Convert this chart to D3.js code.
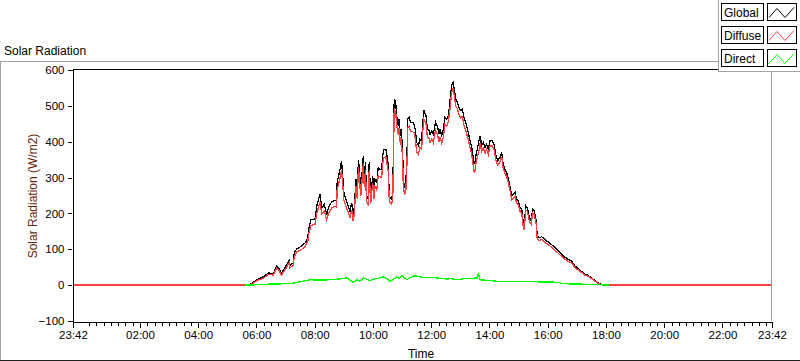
<!DOCTYPE html>
<html><head><meta charset="utf-8">
<script src="https://cdn.jsdelivr.net/npm/d3@7/dist/d3.min.js"></script>
<style>
html,body{margin:0;padding:0;background:#fff;}
svg{display:block;font-family:"Liberation Sans",Arial,sans-serif;}
</style></head>
<body><svg id="c" width="800" height="361"></svg>
<script>
// ---- data (hours of day; 23:42 of previous day = -0.3) ----
const timeHours = [-0.3,5.65,5.70,5.85,6.06,6.25,6.41,6.58,6.69,6.78,6.86,7.04,7.12,7.15,7.26,7.30,7.38,7.55,7.67,7.76,7.80,7.87,8.01,8.07,8.18,8.24,8.33,8.41,8.47,8.58,8.70,
8.75,8.77,8.87,8.92,8.96,9.00,9.07,9.15,9.21,9.27,9.32,9.35,9.38,9.42,9.46,9.50,9.53,9.58,9.61,9.67,9.70,9.74,9.78,9.84,9.87,9.92,9.99,10.03,10.07,10.13,10.18,10.24,10.30,10.33,10.38,10.44,10.47,10.53,10.55,10.58,10.64,10.68,10.70,10.73,10.78,10.81,10.87,10.90,10.94,10.97,11.02,11.04,11.09,11.13,11.17,11.19,11.24,11.29,11.36,11.41,11.45,11.50,11.56,11.61,11.67,11.71,11.75,11.82,11.87,11.93,
11.96,12.02,12.07,12.15,12.22,12.27,12.30,12.36,12.42,12.47,12.53,12.59,12.64,12.70,12.75,12.79,12.84,12.90,12.95,13.01,13.07,13.12,13.18,13.21,13.27,13.33,13.39,13.44,13.48,13.50,13.54,13.58,13.64,13.68,13.73,13.79,13.85,13.90,13.96,14.02,14.10,14.17,14.21,14.28,14.36,14.42,14.47,14.53,14.59,14.65,14.70,14.76,14.82,14.88,14.93,14.99,15.05,15.11,15.16,15.19,15.22,15.25,15.30,15.37,15.43,15.48,15.53,15.60,15.64,15.71,15.79,15.91,16.02,16.19,16.36,16.54,16.71,16.82,16.94,17.11,17.28,17.39,17.51,17.62,17.73,17.85,18.02,18.14,23.7];

const globalValues = [0,0,0,6,17,24,34,32,53,45,34,57,69,55,62,90,101,109,118,132,160,183,183,221,253,216,225,197,216,232,237,
235,286,323,347,305,258,239,221,207,230,193,211,249,295,258,350,323,267,295,361,295,342,249,239,342,244,305,258,295,286,328,323,323,361,379,379,365,333,267,244,239,258,370,519,510,473,445,463,417,435,370,295,272,286,370,463,468,454,454,449,435,398,389,407,403,454,487,473,435,431,
421,431,421,454,440,421,435,417,435,468,463,473,510,557,566,547,519,510,496,487,491,468,454,445,426,403,384,356,337,342,365,379,403,417,389,398,384,393,379,403,403,389,365,347,356,370,337,323,314,295,277,249,253,258,239,235,216,211,174,165,193,221,216,188,179,211,207,183,137,132,135,127,120,109,95,81,71,67,53,41,31,27,20,13,6,2,1,0,0];

const diffuseValues = [0,0,0,4,14,20,30,28,47,40,28,50,62,48,56,80,92,100,108,122,146,166,170,200,232,198,206,182,200,215,220,
218,265,300,322,284,238,220,203,188,210,178,194,230,275,240,328,302,248,276,340,275,320,232,222,320,226,286,240,276,266,306,302,300,338,356,358,345,314,250,230,226,242,348,492,485,448,420,438,392,410,348,275,252,266,345,438,443,430,428,425,410,372,365,384,380,430,462,450,412,408,
398,408,398,432,418,400,414,396,414,448,444,455,490,538,550,530,500,492,476,466,470,446,432,424,406,384,364,335,312,318,342,356,375,396,372,382,368,378,364,388,388,375,352,335,344,358,326,312,303,284,266,238,242,247,228,225,206,200,162,155,183,210,206,178,170,201,197,174,128,124,127,119,113,102,89,75,66,62,49,38,28,25,18,11,5,1,0,0,0];

const directTime = [5.62,6.00,6.46,7.15,7.49,7.84,8.20,8.52,8.80,9.10,9.20,9.32,9.45,9.55,9.67,9.80,9.90,10.10,10.24,10.35,10.50,10.58,10.70,10.81,10.90,10.99,11.08,11.16,11.30,11.40,11.50,11.70,11.96,12.20,12.53,12.70,12.88,13.05,13.22,13.40,13.58,13.62,13.65,13.67,14.00,14.25,14.50,14.82,15.10,15.39,15.70,16.00,16.31,16.50,16.80,17.11,17.40,17.80,18.10];
const directValues = [0,1,3,4,9,15,14,15,17,20,14,8,15,11,20,16,13,18,20,23,17,11,16,23,19,27,21,15,22,26,25,22,22,20,17,18,15,17,19,19,20,34,20,15,13,11,11,10,10,11,9,9,8,5,3,3,2,1,0];

const xTickHours  = [-0.3,2,4,6,8,10,12,14,16,18,20,22,23.7];
const xTickLabels = ["23:42","02:00","04:00","06:00","08:00","10:00","12:00","14:00","16:00","18:00","20:00","22:00","23:42"];
const yTickValues = [-100,0,100,200,300,400,500,600];
const seriesNames = ["Global","Diffuse","Direct"];
const seriesColors = ["#000000","#ff4040","#00ff00"];

// ---- drawing ----
const svg = d3.select("#c");
const L = 73, R = 772, T = 70, B = 321;
const x = d3.scaleLinear().domain([-0.3, 23.7]).range([L, R]);
const y = d3.scaleLinear().domain([-100, 600]).range([B, T]);

// outer frame
svg.append("line").attr("x1",0).attr("x2",718).attr("y1",61.5).attr("y2",61.5).attr("stroke","#a0a0a0");
svg.append("line").attr("x1",0.5).attr("x2",0.5).attr("y1",61.5).attr("y2",361).attr("stroke","#a0a0a0");
svg.append("line").attr("x1",0).attr("x2",800).attr("y1",360.5).attr("y2",360.5).attr("stroke","#202020");

svg.append("text").attr("x",4).attr("y",55).attr("font-size",12).attr("fill","#000").text("Solar Radiation");

// clip
svg.append("defs").append("clipPath").attr("id","pc").append("rect")
  .attr("x",L).attr("y",T).attr("width",R-L).attr("height",B-T);

const g = svg.append("g").attr("clip-path","url(#pc)");
const line = d3.line().x(d=>x(d[0])).y(d=>y(d[1]));
const gData = timeHours.map((t,i)=>[t,globalValues[i]]);
const dData = timeHours.map((t,i)=>[t,diffuseValues[i]]);
const rData = directTime.map((t,i)=>[t,directValues[i]]);
[[gData,seriesColors[0]],[dData,seriesColors[1]],[rData,seriesColors[2]]].forEach(([d,c])=>{
  g.append("path").datum(d).attr("d",line).attr("fill","none").attr("stroke",c)
   .attr("stroke-width",1.3).attr("shape-rendering","crispEdges");
});

// plot frame
svg.append("line").attr("x1",L).attr("x2",R).attr("y1",T-0.5).attr("y2",T-0.5).attr("stroke","#000");
svg.append("line").attr("x1",R-0.5).attr("x2",R-0.5).attr("y1",T).attr("y2",B).attr("stroke","#a0a0a0");

// y axis
const yAxis = d3.axisLeft(y).tickValues(yTickValues).tickSize(5).tickPadding(3);
const ya = svg.append("g").attr("transform",`translate(${L-0.5},0)`).call(yAxis);
ya.select(".domain").attr("stroke","#000");
ya.selectAll(".tick line").attr("stroke","#000").attr("x2",-5).attr("x1",-1);
ya.selectAll("text").attr("font-size",11.5).attr("font-family","Liberation Sans, Arial, sans-serif").attr("fill","#000");

// x axis (major + minor)
const minor = d3.range(0, 23.75, 0.25).filter(h => Math.abs(h/2 - Math.round(h/2)) > 1e-6);
const xMinor = d3.axisBottom(x).tickValues(minor).tickSize(3).tickFormat("");
const xm = svg.append("g").attr("transform",`translate(0,${B+0.5})`).call(xMinor);
xm.select(".domain").remove();
xm.selectAll(".tick line").attr("stroke","#000").attr("y1",1.5).attr("y2",4);
const xAxis = d3.axisBottom(x).tickValues(xTickHours).tickSize(6).tickPadding(3)
  .tickFormat((d,i)=>xTickLabels[i]);
const xa = svg.append("g").attr("transform",`translate(0,${B+0.5})`).call(xAxis);
xa.select(".domain").attr("stroke","#000");
xa.selectAll(".tick line").attr("stroke","#000").attr("y1",1.5).attr("y2",6.5);
xa.selectAll("text").attr("font-size",11.5).attr("font-family","Liberation Sans, Arial, sans-serif").attr("fill","#000");
svg.selectAll(".domain, .tick line").attr("shape-rendering","crispEdges");

// axis titles
svg.append("text").attr("transform","translate(37,196) rotate(-90)").attr("text-anchor","middle")
  .attr("font-size",12).attr("fill","#6b240a").text("Solar Radiation (W/m2)");
svg.append("text").attr("x",421).attr("y",358).attr("text-anchor","middle")
  .attr("font-size",12).attr("fill","#000").text("Time");

// legend
const lg = svg.append("g");
lg.append("rect").attr("x",718.5).attr("y",-1).attr("width",83).attr("height",72.5)
  .attr("fill","#fff").attr("stroke","#a0a0a0");
seriesNames.forEach((n,i)=>{
  const top = 3.5 + i*23;
  lg.append("rect").attr("x",721.5).attr("y",top).attr("width",42).attr("height",17)
    .attr("fill","#fff").attr("stroke","#000");
  lg.append("text").attr("x",724).attr("y",top+13).attr("font-size",12).attr("fill","#000").text(n);
  lg.append("rect").attr("x",767.5).attr("y",top).attr("width",29).attr("height",17)
    .attr("fill","#fff").attr("stroke","#000");
  lg.append("polyline").attr("points",
     `769,${top+14} 777,${top+5} 785,${top+14} 794,${top+4}`)
    .attr("fill","none").attr("stroke",seriesColors[i]).attr("stroke-width",1);
});
</script></body></html>
